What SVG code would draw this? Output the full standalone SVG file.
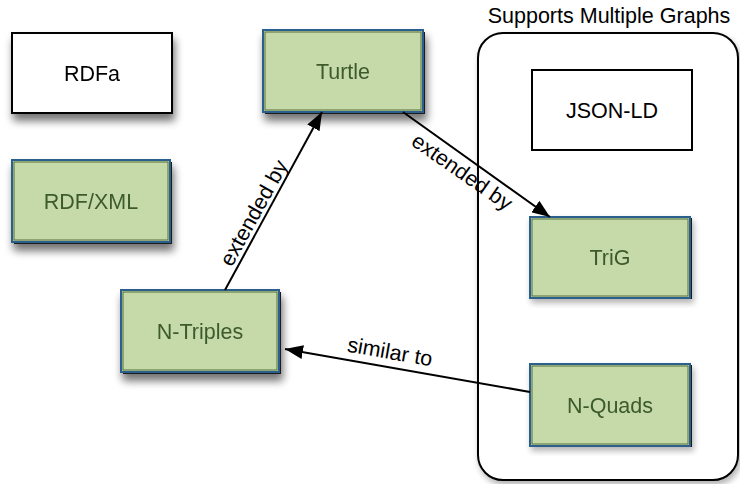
<svg xmlns="http://www.w3.org/2000/svg" width="740" height="484" viewBox="0 0 740 484">
<defs>
<filter id="sh" x="-20%" y="-20%" width="150%" height="160%">
<feGaussianBlur in="SourceAlpha" stdDeviation="4"/>
<feOffset dx="2" dy="7" result="b"/>
<feComponentTransfer><feFuncA type="linear" slope="0.55"/></feComponentTransfer>
<feMerge><feMergeNode/><feMergeNode in="SourceGraphic"/></feMerge>
</filter>
<filter id="shc" x="-10%" y="-10%" width="120%" height="120%">
<feGaussianBlur in="SourceAlpha" stdDeviation="3"/>
<feOffset dx="2" dy="4"/>
<feComponentTransfer><feFuncA type="linear" slope="0.3"/></feComponentTransfer>
<feMerge><feMergeNode/><feMergeNode in="SourceGraphic"/></feMerge>
</filter>
<marker id="ah" markerWidth="18" markerHeight="14" refX="18" refY="7" orient="auto" markerUnits="userSpaceOnUse">
<path d="M0,0 L18,7 L0,14 z" fill="#000"/>
</marker>
</defs>
<style>
text{font-family:"Liberation Sans",Arial,Helvetica,sans-serif;font-size:21.5px;text-anchor:middle}
.w rect.box{fill:#fff;stroke:#000;stroke-width:2}
.g rect.hard{fill:#1a1a1a}
.g rect.box{fill:#c5d9a9;stroke:#2c5f8e;stroke-width:2}
.g rect.inner{fill:none;stroke:#52703a;stroke-width:1}
.g text{fill:#3d5a2c}
.w text{fill:#000}
.edge{stroke:#000;stroke-width:2;fill:none;marker-end:url(#ah)}
.lbl{fill:#000}
</style>
<g id="container">
<rect x="478" y="33" width="260" height="447" rx="25" ry="25" fill="#fff" stroke="#000" stroke-width="2" filter="url(#shc)"/>
<text x="609" y="23" class="lbl">Supports Multiple Graphs</text>
</g>
<g id="rdfa" class="w" filter="url(#sh)">
<rect class="box" x="12" y="33" width="160" height="80"/>
<text x="92" y="81">RDFa</text>
</g>
<g id="jsonld" class="w">
<rect class="box" x="532" y="70" width="160" height="80"/>
<text x="612" y="118">JSON-LD</text>
</g>
<g id="turtle" class="g" filter="url(#sh)">
<rect class="hard" x="265" y="32" width="160" height="82"/>
<rect class="box" x="263" y="30" width="160" height="82"/>
<rect class="inner" x="265" y="32" width="156" height="78"/>
<text x="343" y="79">Turtle</text>
</g>
<g id="rdfxml" class="g" filter="url(#sh)">
<rect class="hard" x="14" y="162" width="158" height="82"/>
<rect class="box" x="12" y="160" width="158" height="82"/>
<rect class="inner" x="14" y="162" width="154" height="78"/>
<text x="91" y="209">RDF/XML</text>
</g>
<g id="ntriples" class="g" filter="url(#sh)">
<rect class="hard" x="123" y="292" width="158" height="82"/>
<rect class="box" x="121" y="290" width="158" height="82"/>
<rect class="inner" x="123" y="292" width="154" height="78"/>
<text x="200" y="339">N-Triples</text>
</g>
<g id="trig" class="g" filter="url(#shc)">
<rect class="hard" x="532" y="218" width="160" height="81"/>
<rect class="box" x="530" y="217" width="160" height="81"/>
<rect class="inner" x="532" y="219" width="156" height="77"/>
<text x="610" y="265">TriG</text>
</g>
<g id="nquads" class="g" filter="url(#shc)">
<rect class="hard" x="532" y="365" width="160" height="82"/>
<rect class="box" x="530" y="364" width="160" height="82"/>
<rect class="inner" x="532" y="366" width="156" height="78"/>
<text x="610" y="413">N-Quads</text>
</g>
<g id="connectors">
<line class="edge" x1="225" y1="290" x2="322" y2="112"/>
<line class="edge" x1="403" y1="112" x2="550" y2="217"/>
<line class="edge" x1="530" y1="392" x2="285" y2="349"/>
<text class="lbl" transform="translate(254,213) rotate(-61)" y="7">extended by</text>
<text class="lbl" transform="translate(462,172) rotate(35)" y="7">extended by</text>
<text class="lbl" transform="translate(390,352) rotate(10)" y="7">similar to</text>
</g>
</svg>
